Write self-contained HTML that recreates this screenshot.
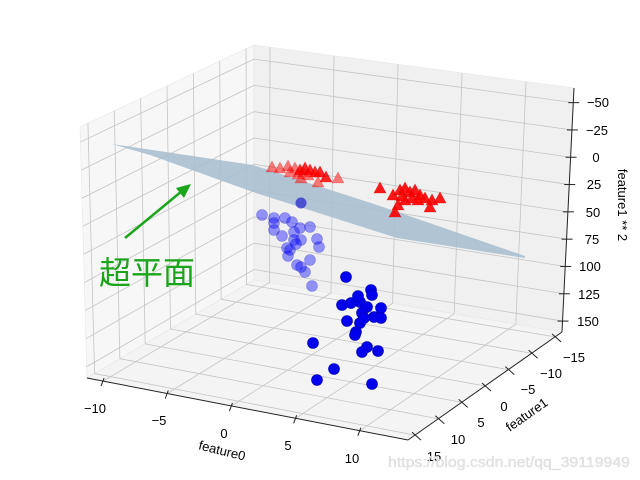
<!DOCTYPE html>
<html><head><meta charset="utf-8"><style>
html,body{margin:0;padding:0;background:#fff;}
svg{display:block;font-family:"Liberation Sans","DejaVu Sans",sans-serif;}
</style></head><body>
<svg id="s" width="640" height="480" viewBox="0 0 640 480" xmlns="http://www.w3.org/2000/svg">
<g id="panes"></g>
<g id="grid" stroke="#c4c4c4" stroke-width="0.8" fill="none"></g>
<g id="axes" stroke="#222" stroke-width="1" fill="none"></g>
<polygon points="112,144 253,165 383,207 525,256 525,258 397,238 253,192 150,155" fill="#a9bfcf" fill-opacity="0.9"/>
<g id="pts"></g>
<g fill="#000" font-size="13" text-anchor="middle">
<text x="598" y="107">−50</text>
<text x="597" y="135">−25</text>
<text x="596" y="162">0</text>
<text x="594" y="189">25</text>
<text x="593" y="217">50</text>
<text x="592" y="244">75</text>
<text x="590" y="271">100</text>
<text x="589" y="299">125</text>
<text x="588" y="326">150</text>
<text x="95" y="413">−10</text>
<text x="159" y="425">−5</text>
<text x="224" y="438">0</text>
<text x="288" y="450">5</text>
<text x="352" y="463">10</text>
<text x="574" y="362">−15</text>
<text x="551" y="378">−10</text>
<text x="528" y="394">−5</text>
<text x="504" y="411">0</text>
<text x="481" y="427">5</text>
<text x="458" y="444">10</text>
<text x="434" y="461">15</text>
<text x="222" y="455" transform="rotate(14 222 451)">feature0</text>
<text x="527" y="419" transform="rotate(-35 527 415)">feature1</text>
<text x="622" y="209" transform="rotate(90 622 205)">feature1 ** 2</text>
</g>
<line x1="125" y1="238" x2="182" y2="191" stroke="#1aa51a" stroke-width="2.5"/>
<polygon points="191,184 184,198 176,188" fill="#1aa51a"/>
<text x="99" y="284" font-size="32" fill="#1aa51a" font-family="'Noto Sans CJK SC','WenQuanYi Zen Hei',sans-serif">超平面</text>
<text x="388" y="467" font-size="15" textLength="242" lengthAdjust="spacingAndGlyphs" fill="#e4e4e4" stroke="#d6d6d6" stroke-width="0.3">https://blog.csdn.net/qq_39119949</text>
</svg>
<script>
var NS="http://www.w3.org/2000/svg";
var B=[254,280],F=[562,332],D=[87,378],G=[408,440];
var HB=[0,-235],HF=[12,-244],HD=[-7,-251],HG=[5,-260];
function bl(a,b,c,d,u,v){return [(1-u)*(1-v)*a[0]+u*(1-v)*b[0]+(1-u)*v*c[0]+u*v*d[0],(1-u)*(1-v)*a[1]+u*(1-v)*b[1]+(1-u)*v*c[1]+u*v*d[1]];}
function P(u,v,h){var f=bl(B,F,D,G,u,v),k=bl(HB,HF,HD,HG,u,v);return [f[0]+h*k[0],f[1]+h*k[1]];}
function el(t,a,p){var e=document.createElementNS(NS,t);for(var k in a)e.setAttribute(k,a[k]);document.getElementById(p).appendChild(e);return e;}
function ln(a,b,p,extra){var o={x1:a[0],y1:a[1],x2:b[0],y2:b[1]};if(extra)for(var k in extra)o[k]=extra[k];el("line",o,p);}
function poly(pts,fill){el("polygon",{points:pts.map(function(p){return p[0]+","+p[1]}).join(" "),fill:fill,stroke:"#e6e6e6","stroke-width":0.6},"panes");}
poly([P(0,0,0),P(0,1,0),P(0,1,1),P(0,0,1)],"#f7f7f7");
poly([P(0,0,0),P(1,0,0),P(1,0,1),P(0,0,1)],"#f0f0f0");
poly([P(0,0,0),P(1,0,0),P(1,1,0),P(0,1,0)],"#f4f4f4");
var xs=[-10,-5,0,5,10].map(function(x){return (x+11.25)/25});
var ys=[-15,-10,-5,0,5,10,15].map(function(y){return (y+16.5)/33});
var zs=[-50,-25,0,25,50,75,100,125,150].map(function(z){return 1-(z+63.4)/223.4});
xs.forEach(function(u){ln(P(u,0,0),P(u,1,0),"grid");ln(P(u,0,0),P(u,0,1),"grid");});
ys.forEach(function(v){ln(P(0,v,0),P(1,v,0),"grid");ln(P(0,v,0),P(0,v,1),"grid");});
zs.forEach(function(h){ln(P(0,0,h),P(0,1,h),"grid");ln(P(0,0,h),P(1,0,h),"grid");});
ln(P(0,1,0),P(1,1,0),"axes");ln(P(1,1,0),P(1,0,0),"axes");ln(P(1,0,0),P(1,0,1),"axes");
xs.forEach(function(u){var p=P(u,1,0);ln([p[0]+1,p[1]-3],[p[0]-2,p[1]+5],"axes");});
ys.forEach(function(v){var p=P(1,v,0);ln([p[0]-3,p[1]-3],[p[0]+6,p[1]+5],"axes");});
zs.forEach(function(h){var p=P(1,0,h);ln([p[0]-5,p[1]],[p[0]+6,p[1]],"axes");});
var faded=[[262,215],[274,218],[285,218],[292,222],[274,223],[274,230],[310,227],[294,232],[294,240],[301,240],[317,239],[319,247],[287,248],[290,250],[296,244],[310,260],[297,265],[301,267],[305,272],[312,286],[282,236],[300,228],[288,256]];
var solid=[[346,277],[371,290],[372,295],[342,305],[351,303],[360,302],[367,307],[381,308],[362,313],[374,317],[381,318],[347,321],[360,323],[356,332],[355,335],[313,343],[367,347],[362,352],[378,351],[334,369],[317,380],[372,384],[358,296],[364,318]];
var r1=[[272,167],[280,168],[288,166],[295,168],[300,170],[305,168],[310,170],[315,172],[320,172],[326,177],[338,178],[301,178],[318,182],[290,172],[298,174],[303,172],[308,175]];
var r2=[[380,188],[393,195],[400,190],[405,188],[410,192],[415,190],[420,195],[425,198],[432,200],[440,198],[430,207],[398,205],[395,212],[405,200],[412,198],[402,196],[418,200]];
function tri(p,op){var x=p[0],y=p[1];el("polygon",{points:(x)+","+(y-6)+" "+(x-6)+","+(y+5)+" "+(x+6)+","+(y+5),fill:"#ff0000","fill-opacity":op,stroke:"#cc0000","stroke-opacity":op*0.6,"stroke-width":0.6},"pts");}
el("circle",{cx:301,cy:203,r:5.5,fill:"#2a2acc","fill-opacity":0.75},"pts");
faded.forEach(function(p){el("circle",{cx:p[0],cy:p[1],r:5.5,fill:"#0000ff","fill-opacity":0.4,stroke:"#0000aa","stroke-opacity":0.3,"stroke-width":0.6},"pts");});
r1.forEach(function(p,i){tri(p,i<4||i>9?0.5:0.85);});
r2.forEach(function(p){tri(p,0.9);});
solid.forEach(function(p){el("circle",{cx:p[0],cy:p[1],r:5.5,fill:"#0000ee","stroke":"#0000aa","stroke-width":0.6},"pts");});
</script>
</body></html>
